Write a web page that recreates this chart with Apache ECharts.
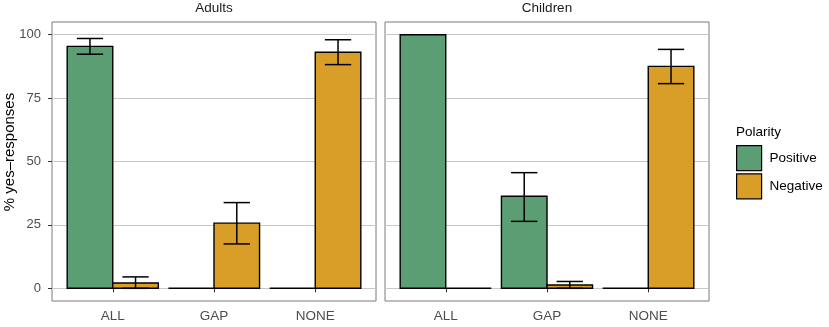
<!DOCTYPE html>
<html>
<head>
<meta charset="utf-8">
<script src="https://cdn.jsdelivr.net/npm/echarts@6/dist/echarts.min.js"></script>
<style>
  html, body { margin: 0; padding: 0; background: #fff; }
  #chart { width: 829px; height: 327px; }
</style>
</head>
<body>
<div id="chart"></div>
<script>
const categories = ['ALL', 'GAP', 'NONE'];
const yTicks = [0, 25, 50, 75, 100];

// Adults
const adultsPositive = [95.4, 0, 0];
const adultsPositiveLo = [92.3, null, null];
const adultsPositiveHi = [98.5, null, null];
const adultsNegative = [2.1, 25.7, 93.1];
const adultsNegativeLo = [0, 17.5, 88.2];
const adultsNegativeHi = [4.5, 33.8, 98.0];

// Children
const childrenPositive = [100, 36.3, 0];
const childrenPositiveLo = [null, 26.4, null];
const childrenPositiveHi = [null, 45.6, null];
const childrenNegative = [0, 1.3, 87.5];
const childrenNegativeLo = [null, 0, 80.7];
const childrenNegativeHi = [null, 2.7, 94.2];

const green = '#5b9e74';
const orange = '#d89e27';
const font = 'Liberation Sans, Arial, sans-serif';

function rows(vals, lo, hi) {
    return vals.map((v, i) => [i + 1, v, lo[i] == null ? '-' : lo[i], hi[i] == null ? '-' : hi[i]]);
}

// bars are 0.45 category units wide, dodged; error caps 0.25 wide
function makeRender(offset, color) {
    return function (params, api) {
        const x = api.value(0) + offset;
        const v = api.value(1);
        const lo = api.value(2);
        const hi = api.value(3);
        const tl = api.coord([x - 0.225, v]);
        const br = api.coord([x + 0.225, 0]);
        const children = [];
        if (v === 0) {
            children.push({
                type: 'line',
                shape: { x1: tl[0], y1: br[1], x2: br[0], y2: br[1] },
                style: { stroke: '#000', lineWidth: 1.4 }
            });
        } else {
            children.push({
                type: 'rect',
                shape: { x: tl[0], y: tl[1], width: br[0] - tl[0], height: br[1] - tl[1] },
                style: { fill: color, stroke: '#000', lineWidth: 1.4 }
            });
        }
        if (!isNaN(lo) && !isNaN(hi)) {
            const c = api.coord([x, 0])[0];
            const half = api.size([0.13, 0])[0];
            const yLo = api.coord([x, lo])[1];
            const yHi = api.coord([x, hi])[1];
            const es = { stroke: '#000', lineWidth: 1.5 };
            children.push({ type: 'line', shape: { x1: c, y1: yLo, x2: c, y2: yHi }, style: es });
            children.push({ type: 'line', shape: { x1: c - half, y1: yLo, x2: c + half, y2: yLo }, style: es });
            children.push({ type: 'line', shape: { x1: c - half, y1: yHi, x2: c + half, y2: yHi }, style: es });
        }
        return { type: 'group', children: children };
    };
}

function xAxis(idx) {
    return {
        type: 'value', gridIndex: idx, min: 0.4, max: 3.6,
        splitLine: { show: false },
        axisLine: { show: false },
        axisTick: { show: true, customValues: [1, 2, 3], length: 4, lineStyle: { color: '#333', width: 1 } },
        axisLabel: {
            customValues: [1, 2, 3], margin: 8,
            formatter: v => categories[Math.round(v) - 1],
            color: '#4d4d4d', fontSize: 13.5, fontFamily: font
        }
    };
}

function yAxis(idx, labels) {
    return {
        type: 'value', gridIndex: idx, min: -5, max: 105,
        axisLine: { show: false },
        axisTick: { show: labels, customValues: yTicks, length: 4, lineStyle: { color: '#333', width: 1 } },
        axisLabel: { show: labels, customValues: yTicks, margin: 11, color: '#4d4d4d', fontSize: 13, fontFamily: font },
        splitLine: { show: true, lineStyle: { color: '#c8c8c8', width: 1.2 } }
    };
}

function series(name, grid, data, offset, color) {
    return {
        name: name, type: 'custom', xAxisIndex: grid, yAxisIndex: grid,
        itemStyle: { color: color, borderColor: '#000', borderWidth: 1 },
        renderItem: makeRender(offset, color),
        encode: { x: 0, y: 1 },
        data: data
    };
}

const chart = echarts.init(document.getElementById('chart'));
chart.setOption({
    animation: false,
    textStyle: { fontFamily: font },
    grid: [
        { left: 52, top: 22, width: 324, height: 279, show: true, borderColor: '#7a7a7a', borderWidth: 1 },
        { left: 385, top: 22, width: 324, height: 279, show: true, borderColor: '#7a7a7a', borderWidth: 1 }
    ],
    xAxis: [xAxis(0), xAxis(1)],
    yAxis: [yAxis(0, true), yAxis(1, false)],
    legend: {
        data: ['Positive', 'Negative'],
        orient: 'vertical', left: 736, top: 145, padding: 0,
        itemWidth: 25, itemHeight: 25, itemGap: 2,
        icon: 'rect',
        itemStyle: { borderColor: '#000', borderWidth: 1.2 },
        textStyle: { fontSize: 13.5, color: '#000', fontFamily: font, padding: [0, 0, 0, 3] }
    },
    graphic: [
        { type: 'text', x: 214, y: 8, style: { text: 'Adults', fontSize: 13.5, fontFamily: font, fill: '#1a1a1a', textAlign: 'center', textVerticalAlign: 'middle' } },
        { type: 'text', x: 547, y: 8, style: { text: 'Children', fontSize: 13.5, fontFamily: font, fill: '#1a1a1a', textAlign: 'center', textVerticalAlign: 'middle' } },
        { type: 'text', x: 736, y: 132, style: { text: 'Polarity', fontSize: 13.5, fontFamily: font, fill: '#000', textAlign: 'left', textVerticalAlign: 'middle' } },
        { type: 'text', x: 10, y: 152, rotation: Math.PI / 2, style: { text: '% yes–responses', fontSize: 15, fontFamily: font, fill: '#000', textAlign: 'center', textVerticalAlign: 'middle' } }
    ],
    series: [
        series('Positive', 0, rows(adultsPositive, adultsPositiveLo, adultsPositiveHi), -0.225, green),
        series('Negative', 0, rows(adultsNegative, adultsNegativeLo, adultsNegativeHi), 0.225, orange),
        series('Positive', 1, rows(childrenPositive, childrenPositiveLo, childrenPositiveHi), -0.225, green),
        series('Negative', 1, rows(childrenNegative, childrenNegativeLo, childrenNegativeHi), 0.225, orange)
    ]
});
</script>
</body>
</html>
